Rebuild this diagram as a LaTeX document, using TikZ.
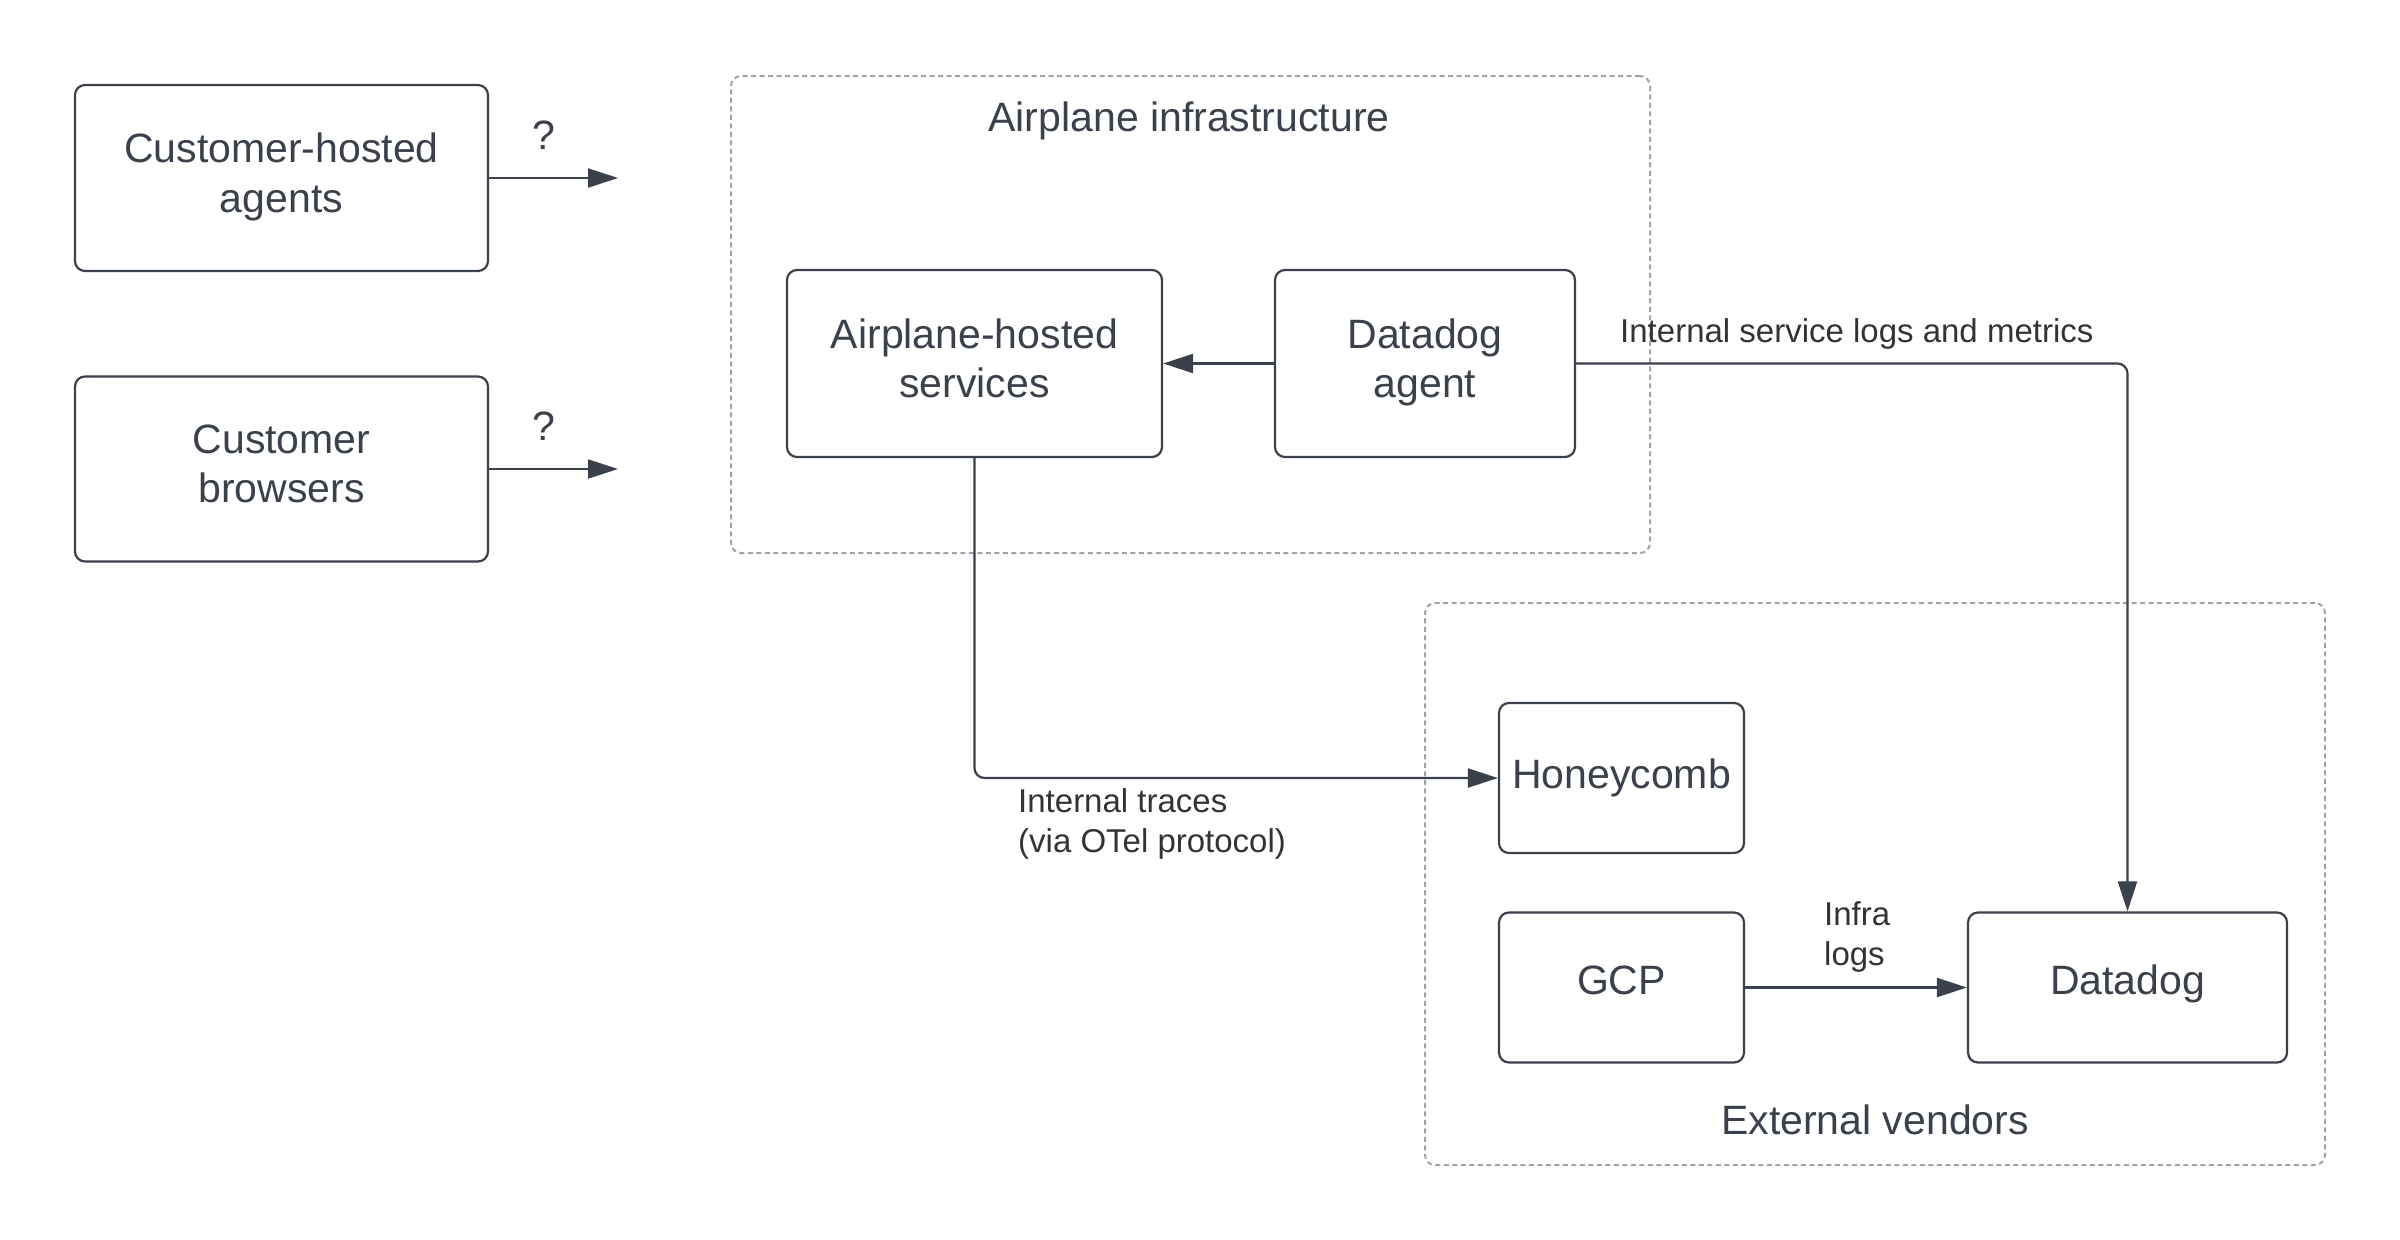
\documentclass[tikz,border=0pt]{standalone}
\usepackage{fontspec}
\setmainfont{Liberation Sans}
\usetikzlibrary{arrows.meta}
\definecolor{ink}{HTML}{3A414A}
\definecolor{frameclr}{HTML}{9DA3AB}
\definecolor{labelclr}{HTML}{333333}
\newcommand\lastdp{\vrule width 0pt height 0pt depth 11pt}
\begin{document}
\begin{tikzpicture}[x=1pt,y=-1pt,
  box/.style={draw=ink, line width=2.2pt, rounded corners=10pt, inner sep=0pt, align=center, text=ink, font=\fontsize{41}{49.5}\selectfont},
  grp/.style={draw=frameclr, line width=2pt, dash pattern=on 5pt off 3.5pt, rounded corners=10pt, inner sep=0pt},
  conn/.style={draw=ink, line width=2.2pt, -{Triangle[length=30pt,width=19pt]}},
  lbl/.style={text=labelclr, font=\fontsize{33}{40}\selectfont, inner sep=0pt, align=left},
  ttl/.style={text=ink, font=\fontsize{41}{49.5}\selectfont, inner sep=0pt}
]
\useasboundingbox (0,0) rectangle (2400,1239);

% groups
\node[grp, minimum width=919pt, minimum height=477pt] (infra) at (1190.5,314.5) {};
\node[ttl] (infratitle) at (1189,121) {Airplane infrastructure};
\node[grp, minimum width=900pt, minimum height=562pt] (ext) at (1875,884) {};
\node[ttl] (exttitle) at (1875,1120) {External vendors};

% left boxes
\node[box, minimum width=413pt, minimum height=186pt] (cha) at (281.5,178) {Customer-hosted\\agents\lastdp};
\node[box, minimum width=413pt, minimum height=185pt] (cb) at (281.5,469) {Customer\\browsers\lastdp};
\coordinate (chaend) at (618,178);
\coordinate (cbend) at (618,469);
\draw[conn] (cha.east) -- (chaend);
\draw[conn] (cb.east) -- (cbend);
\node[ttl] (q1) at (544,135) {?};
\node[ttl] (q2) at (544,426) {?};

% airplane infrastructure
\node[box, minimum width=375pt, minimum height=187pt] (ahs) at (974.5,363.5) {Airplane-hosted\\services\lastdp};
\node[box, minimum width=300pt, minimum height=187pt] (da) at (1425,363.5) {Datadog\\agent\lastdp};
\draw[conn] (da.west) -- (ahs.east);

% external vendors
\node[box, minimum width=245pt, minimum height=150pt, text height=20pt, text depth=0pt] (hc) at (1621.5,778) {Honeycomb};
\node[box, minimum width=245pt, minimum height=150pt, text height=13pt, text depth=0pt] (gcp) at (1621.5,987.5) {GCP};
\node[box, minimum width=319pt, minimum height=150pt, text height=13pt, text depth=0pt] (dd) at (2127.5,987.5) {Datadog};

% connectors
\draw[conn, rounded corners=10pt] (ahs.south) |- (hc.west);
\draw[conn, rounded corners=10pt] (da.east) -| (dd.north);
\draw[conn] (gcp.east) -- (dd.west);

% labels
\node[lbl, anchor=west] (l1) at (1620,334) {Internal service logs and metrics};
\node[lbl, anchor=west] (l2) at (1018,823.5) {Internal traces\\(via OTel protocol)};
\node[lbl, anchor=west] (l3) at (1824,937) {Infra\\logs};
\end{tikzpicture}
\end{document}
